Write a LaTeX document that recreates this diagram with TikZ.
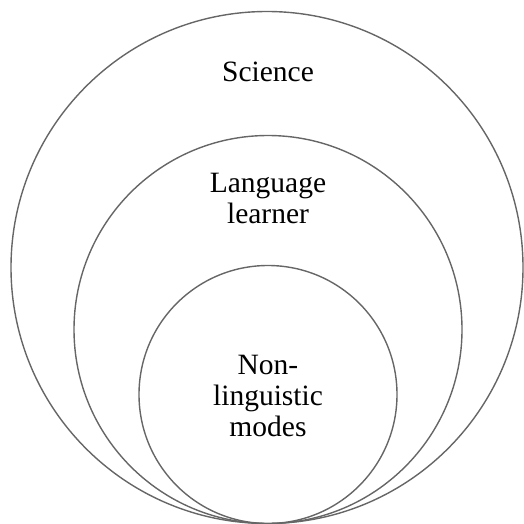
\documentclass[tikz,border=0pt]{standalone}
\usepackage{fontspec}
\setmainfont{Liberation Serif}
\begin{document}
\begin{tikzpicture}[x=1pt,y=-1pt,
  ring/.style={draw=black!60,line width=1.4pt},
  lbl/.style={align=center,font=\fontsize{29.5}{31}\selectfont,inner sep=0pt}]
\useasboundingbox (0,0) rectangle (524,524);
% nested circles sharing a common bottom tangent point
\node[ring,circle,minimum size=512pt,inner sep=0pt] (outer) at (267,267.5) {};
\node[ring,circle,minimum size=388pt,inner sep=0pt] (middle) at (268,329.5) {};
\node[ring,circle,minimum size=258pt,inner sep=0pt] (inner) at (268,394.5) {};
% labels
\node[lbl] (sci) at (268,72) {Science};
\node[lbl] (lang) at (268,198) {Language\\learner};
\node[lbl] (modes) at (268,396) {Non-\\linguistic\\modes};
\end{tikzpicture}
\end{document}
